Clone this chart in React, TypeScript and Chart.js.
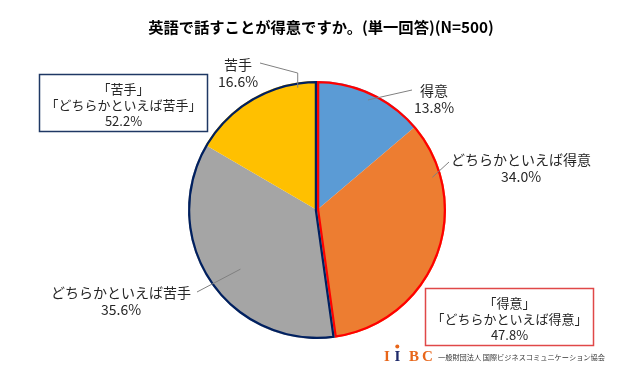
import React, { useEffect, useRef } from "react";
import { Chart, registerables } from "chart.js";

Chart.register(...registerables);

const TITLE = "英語で話すことが得意ですか。(単一回答)(N=500)";
const CATEGORIES = ["得意", "どちらかといえば得意", "どちらかといえば苦手", "苦手"];
const VALUES = [13.8, 34.0, 35.6, 16.6];
const COLORS = ["#5B9BD5", "#ED7D31", "#A5A5A5", "#FFC000"];
const GROUP_GOOD = [0, 1];
const GROUP_BAD = [2, 3];
const GOOD_LABEL = ["「得意」", "「どちらかといえば得意」"];
const BAD_LABEL = ["「苦手」", "「どちらかといえば苦手」"];
const ORG_NAME = "一般財団法人 国際ビジネスコミュニケーション協会";

// label layout: text center, leader start, inner point (angle fraction, radius fraction)
const LABEL_LAYOUT = [
  { cx: 434, y: 91, lx: 412, ly: 90, af: 0.5, rf: 0.94, elbow: false },
  { cx: 521, y: 160, lx: 449, ly: 162, af: 0.2, rf: 0.93, elbow: false },
  { cx: 121, y: 293, lx: 197, ly: 292, af: 0.47, rf: 0.75, elbow: false },
  { cx: 238, y: 65, lx: 260, ly: 63, af: 0.85, rf: 0.96, elbow: true },
];

const FONT = '"Noto Sans CJK JP", "Noto Sans", sans-serif';

const overlayPlugin = {
  id: "overlay",
  afterDatasetsDraw(chart: any) {
    const ctx = chart.ctx as CanvasRenderingContext2D;
    const meta = chart.getDatasetMeta(0);
    const arcs = meta.data as any[];
    const p0 = arcs[0].getProps(["x", "y", "outerRadius"], true);
    const cx = p0.x, cy = p0.y, R = p0.outerRadius;

    const drawGroup = (idx: number[], color: string) => {
      const a = arcs[idx[0]].getProps(["startAngle"], true).startAngle;
      const b = arcs[idx[idx.length - 1]].getProps(["endAngle"], true).endAngle;
      ctx.save();
      ctx.beginPath();
      ctx.moveTo(cx, cy);
      ctx.arc(cx, cy, R, a, b);
      ctx.closePath();
      ctx.clip();
      ctx.strokeStyle = color;
      ctx.lineWidth = 4.5;
      ctx.lineJoin = "miter";
      ctx.stroke();
      ctx.restore();
    };
    drawGroup(GROUP_GOOD, "#FF0000");
    drawGroup(GROUP_BAD, "#002060");

    // title
    ctx.save();
    ctx.fillStyle = "#000";
    ctx.font = `bold 15.3px ${FONT}`;
    ctx.textAlign = "center";
    ctx.textBaseline = "middle";
    ctx.fillText(TITLE, 321, 27);
    ctx.restore();

    // data labels with leader lines
    arcs.forEach((arc, i) => {
      const L = LABEL_LAYOUT[i];
      const { startAngle, endAngle } = arc.getProps(["startAngle", "endAngle"], true);
      const ang = startAngle + L.af * (endAngle - startAngle);
      const px = cx + Math.cos(ang) * R * L.rf;
      const py = cy + Math.sin(ang) * R * L.rf;
      ctx.save();
      ctx.strokeStyle = "#808080";
      ctx.lineWidth = 1;
      ctx.beginPath();
      ctx.moveTo(L.lx, L.ly);
      if (L.elbow) {
        ctx.lineTo(px, L.ly + 10);
      }
      ctx.lineTo(px, py);
      ctx.stroke();
      ctx.fillStyle = "#262626";
      ctx.font = `14px ${FONT}`;
      ctx.textAlign = "center";
      ctx.textBaseline = "middle";
      ctx.fillText(CATEGORIES[i], L.cx, L.y);
      ctx.fillText(`${VALUES[i].toFixed(1)}%`, L.cx, L.y + 17);
      ctx.restore();
    });

    // summary boxes
    const sum = (idx: number[]) => idx.reduce((s, k) => s + VALUES[k], 0);
    const drawBox = (x: number, y: number, w: number, h: number, color: string, lines: string[]) => {
      ctx.save();
      ctx.fillStyle = "#fff";
      ctx.fillRect(x, y, w, h);
      ctx.strokeStyle = color;
      ctx.lineWidth = 1.5;
      ctx.strokeRect(x, y, w, h);
      ctx.fillStyle = "#262626";
      ctx.font = `13px ${FONT}`;
      ctx.textAlign = "center";
      ctx.textBaseline = "middle";
      lines.forEach((t, k) => ctx.fillText(t, x + w / 2, y + 15 + k * 16));
      ctx.restore();
    };
    drawBox(39.5, 74.5, 168, 57, "#1F3864", [...BAD_LABEL, `${sum(GROUP_BAD).toFixed(1)}%`]);
    drawBox(425.5, 288.5, 168, 57, "#E04848", [...GOOD_LABEL, `${sum(GROUP_GOOD).toFixed(1)}%`]);

    // logo
    ctx.save();
    ctx.font = 'bold 15px "Liberation Serif", "DejaVu Serif", serif';
    ctx.textBaseline = "alphabetic";
    ctx.textAlign = "left";
    ctx.fillStyle = "#E8661A";
    ctx.fillText("I", 384, 361);
    ctx.fillStyle = "#1F2A6B";
    ctx.fillText("I", 394.5, 361);
    ctx.fillStyle = "#E8661A";
    ctx.beginPath();
    ctx.arc(397.3, 346.5, 2, 0, Math.PI * 2);
    ctx.fill();
    ctx.fillText("B", 409, 361);
    ctx.fillText("C", 422, 361);
    ctx.fillStyle = "#333";
    ctx.font = `7.2px ${FONT}`;
    ctx.textBaseline = "middle";
    ctx.fillText(ORG_NAME, 438, 357);
    ctx.restore();
  },
};

export default function App() {
  const ref = useRef<HTMLCanvasElement>(null);
  useEffect(() => {
    if (!ref.current) return;
    const chart = new Chart(ref.current, {
      type: "pie",
      data: {
        labels: CATEGORIES,
        datasets: [
          {
            data: VALUES,
            backgroundColor: COLORS,
            borderWidth: 0,
          },
        ],
      },
      options: {
        responsive: false,
        animation: false,
        layout: { padding: { top: 81, bottom: 51, left: 188, right: 194 } },
        plugins: {
          legend: { display: false },
          tooltip: { enabled: false },
          title: { display: false },
        },
      },
      plugins: [overlayPlugin],
    });
    return () => chart.destroy();
  }, []);
  return (
    <div style={{ position: "fixed", left: 0, top: 0, width: 640, height: 390, background: "#fff" }}>
      <canvas ref={ref} width={640} height={390} />
    </div>
  );
}
